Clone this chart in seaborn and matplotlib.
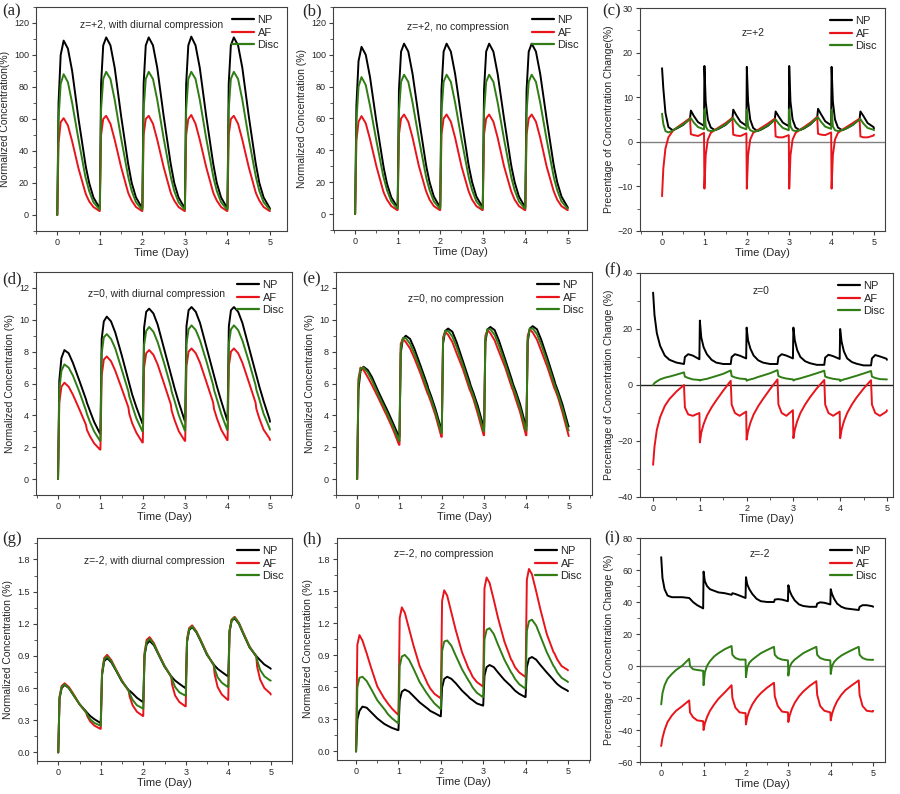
import numpy as np
import pandas as pd
import matplotlib
matplotlib.use('Agg')
import matplotlib.pyplot as plt
import seaborn as sns
from matplotlib.ticker import MultipleLocator, FormatStrFormatter

# time grid: sample points inside each day (compression switches at ~0.67 day)
days = [0, 1, 2, 3, 4]
phase = [0, 0.03, 0.08, 0.15, 0.25, 0.35, 0.5, 0.66, 0.68, 0.75, 0.85, 0.99]
time = [d + p for d in days for p in phase] + [5.0]

layers = ['NP', 'AF', 'Disc']
colors = ['black', '#e8141b', '#2f7d14']

# (a) z=+2, with diurnal compression
a_np = [0, 70, 100, 109, 104, 90, 60, 32, 29, 20, 11, 4.5,
        4.5, 82, 106, 111, 106, 92, 62, 33, 30, 20, 11, 4.5,
        4.5, 82, 106, 111, 106, 92, 62, 33, 30, 20, 11, 4.5,
        4.5, 82, 106, 111.5, 106, 92, 62, 33, 30, 20, 11, 4.5,
        4.5, 82, 106, 111, 106, 92, 62, 33, 30, 20, 11, 4.5, 4]
a_af = [0, 45, 58, 60.5, 56, 46, 29, 14, 12.5, 8.5, 5, 2.5,
        2.5, 50, 60, 62, 57, 47, 30, 14.5, 13, 9, 5, 2.5,
        2.5, 50, 60, 62, 57, 47, 30, 14.5, 13, 9, 5, 2.5,
        2.5, 50, 60, 62.5, 57, 47, 30, 14.5, 13, 9, 5, 2.5,
        2.5, 50, 60, 62, 57, 47, 30, 14.5, 13, 9, 5, 2.5, 2.5]
a_disc = [0, 60, 82, 88, 83, 70, 47, 24, 22, 15, 8, 3.5,
          3.5, 66, 85, 89.5, 85, 72, 48, 25, 22.5, 15, 8, 3.5,
          3.5, 66, 85, 89.5, 85, 72, 48, 25, 22.5, 15, 8, 3.5,
          3.5, 66, 85, 89.5, 85, 72, 48, 25, 22.5, 15, 8, 3.5,
          3.5, 66, 85, 89.5, 85, 72, 48, 25, 22.5, 15, 8, 3.5, 3.5]

# (b) z=+2, no compression
b_np = [0, 68, 96, 105, 100, 86, 58, 31, 28, 19, 10.5, 4.5,
        4.5, 78, 102, 107, 102, 88, 60, 32, 29, 20, 11, 4.5,
        4.5, 78, 102, 107, 102, 88, 60, 32, 29, 20, 11, 4.5,
        4.5, 78, 102, 107, 102, 88, 60, 32, 29, 20, 11, 4.5,
        4.5, 78, 102, 107, 102, 88, 60, 32, 29, 20, 11, 4.5, 4]
b_af = [0, 46, 58, 61.5, 57, 47, 30, 14.5, 13, 9, 5, 2.5,
        2.5, 50, 60, 62.5, 58, 48, 30, 15, 13.5, 9, 5, 2.5,
        2.5, 50, 60, 62.5, 58, 48, 30, 15, 13.5, 9, 5, 2.5,
        2.5, 50, 60, 62.5, 58, 48, 30, 15, 13.5, 9, 5, 2.5,
        2.5, 50, 60, 62.5, 58, 48, 30, 15, 13.5, 9, 5, 2.5, 2.5]
b_disc = [0, 58, 80, 86, 81, 68, 46, 24, 22, 15, 8, 3.5,
          3.5, 64, 83, 87.5, 83, 70, 47, 24.5, 22, 15, 8, 3.5,
          3.5, 64, 83, 87.5, 83, 70, 47, 24.5, 22, 15, 8, 3.5,
          3.5, 64, 83, 87.5, 83, 70, 47, 24.5, 22, 15, 8, 3.5,
          3.5, 64, 83, 87.5, 83, 70, 47, 24.5, 22, 15, 8, 3.5, 3.5]

# (c) z=+2, percentage change
c_np = [16.5, 12, 6.5, 3.3, 2.6, 3.0, 3.8, 5.2, 7.0, 5.8, 4.4, 3.6,
        17, 9, 5, 3.2, 2.6, 3.0, 3.8, 5.2, 7.2, 6.0, 4.5, 3.6,
        16.8, 9, 5, 3.1, 2.4, 2.8, 3.6, 5.0, 6.8, 5.7, 4.3, 3.5,
        17, 9, 5, 3.2, 2.6, 3.0, 3.9, 5.4, 7.4, 6.2, 4.6, 3.7,
        16.8, 9, 5, 3.2, 2.6, 3.0, 3.8, 5.1, 6.8, 5.8, 4.2, 3.3, 3.0]
c_af = [-12.2, -6, -1.5, 1.0, 2.4, 3.2, 4.2, 5.3, 1.7, 1.5, 1.3, 2.0,
        -10.5, -3, 0.5, 2.0, 2.7, 3.3, 4.2, 5.4, 1.6, 1.4, 1.3, 1.9,
        -10.5, -3, 0.5, 2.0, 2.6, 3.2, 4.1, 5.2, 1.2, 1.0, 1.0, 1.5,
        -10.5, -3, 0.5, 2.0, 2.7, 3.3, 4.3, 5.6, 1.8, 1.6, 1.5, 2.1,
        -10.5, -3, 0.5, 2.0, 2.7, 3.3, 4.2, 5.2, 1.2, 1.0, 1.0, 1.4, 1.6]
c_disc = [6.3, 4.0, 2.4, 2.1, 2.5, 3.1, 3.9, 5.1, 5.3, 4.3, 3.3, 2.8,
          7.3, 3.5, 2.6, 2.4, 2.6, 3.1, 3.9, 5.2, 5.3, 4.3, 3.3, 2.8,
          7.2, 3.5, 2.6, 2.3, 2.4, 2.9, 3.7, 4.9, 5.0, 4.1, 3.1, 2.6,
          7.3, 3.5, 2.6, 2.4, 2.6, 3.1, 4.0, 5.4, 5.5, 4.5, 3.4, 2.9,
          7.2, 3.5, 2.6, 2.4, 2.6, 3.0, 3.8, 5.0, 5.1, 4.1, 3.1, 2.7, 2.6]

# (d) z=0, with diurnal compression
d_np = [0, 6.2, 7.6, 8.1, 7.9, 7.3, 6.2, 5.0, 4.8, 4.3, 3.6, 2.85,
        2.85, 8.8, 9.9, 10.2, 9.9, 9.2, 7.8, 6.2, 6.0, 5.3, 4.5, 3.5,
        3.5, 9.5, 10.5, 10.7, 10.4, 9.7, 8.2, 6.6, 6.4, 5.7, 4.8, 3.65,
        3.65, 9.6, 10.6, 10.8, 10.5, 9.8, 8.3, 6.7, 6.5, 5.8, 4.9, 3.7,
        3.7, 9.6, 10.6, 10.8, 10.5, 9.8, 8.3, 6.7, 6.5, 5.8, 4.9, 3.75, 3.6]
d_af = [0, 4.8, 5.8, 6.05, 5.8, 5.3, 4.4, 3.4, 3.1, 2.7, 2.25, 1.85,
        1.85, 6.5, 7.5, 7.7, 7.4, 6.8, 5.7, 4.5, 4.1, 3.5, 2.9, 2.3,
        2.3, 7.0, 7.9, 8.1, 7.8, 7.2, 6.0, 4.7, 4.3, 3.7, 3.0, 2.4,
        2.4, 7.1, 8.0, 8.2, 7.9, 7.3, 6.1, 4.8, 4.4, 3.8, 3.1, 2.45,
        2.45, 7.1, 8.0, 8.2, 7.9, 7.3, 6.1, 4.8, 4.4, 3.8, 3.1, 2.55, 2.45]
d_disc = [0, 5.6, 6.8, 7.2, 7.0, 6.5, 5.5, 4.3, 4.1, 3.6, 3.0, 2.4,
          2.4, 7.9, 8.9, 9.1, 8.8, 8.2, 6.9, 5.5, 5.2, 4.6, 3.8, 3.0,
          3.0, 8.4, 9.3, 9.55, 9.25, 8.6, 7.3, 5.8, 5.5, 4.9, 4.0, 3.05,
          3.05, 8.5, 9.4, 9.65, 9.35, 8.7, 7.4, 5.9, 5.6, 5.0, 4.1, 3.1,
          3.1, 8.5, 9.4, 9.65, 9.35, 8.7, 7.4, 5.9, 5.6, 5.0, 4.1, 3.2, 3.1]

# (e) z=0, no compression
e_np = [0, 5.6, 6.8, 7.05, 6.85, 6.4, 5.5, 4.6, 4.5, 4.1, 3.5, 2.65,
        2.65, 7.9, 8.8, 9.0, 8.8, 8.2, 7.1, 5.9, 5.7, 5.2, 4.4, 3.1,
        3.1, 8.5, 9.3, 9.45, 9.25, 8.6, 7.4, 6.1, 5.9, 5.4, 4.6, 3.25,
        3.25, 8.6, 9.4, 9.55, 9.35, 8.7, 7.5, 6.2, 6.0, 5.5, 4.7, 3.3,
        3.3, 8.6, 9.45, 9.6, 9.4, 8.75, 7.55, 6.2, 6.0, 5.5, 4.7, 3.35, 3.3]
e_af = [0, 6.3, 7.0, 6.85, 6.4, 5.9, 5.1, 4.2, 4.1, 3.7, 3.1, 2.15,
        2.15, 8.5, 8.8, 8.6, 8.2, 7.6, 6.6, 5.4, 5.3, 4.8, 4.0, 2.65,
        2.65, 8.9, 9.25, 9.05, 8.6, 7.9, 6.9, 5.6, 5.5, 5.0, 4.1, 2.75,
        2.75, 9.0, 9.35, 9.15, 8.7, 8.0, 7.0, 5.7, 5.6, 5.0, 4.2, 2.75,
        2.75, 9.0, 9.4, 9.2, 8.75, 8.05, 7.0, 5.7, 5.6, 5.1, 4.2, 2.8, 2.7]
e_disc = [0, 6.0, 6.95, 7.0, 6.7, 6.2, 5.3, 4.4, 4.3, 3.9, 3.3, 2.4,
          2.4, 8.2, 8.85, 8.85, 8.5, 7.9, 6.85, 5.65, 5.5, 5.0, 4.2, 2.9,
          2.9, 8.7, 9.3, 9.3, 8.95, 8.3, 7.15, 5.85, 5.7, 5.2, 4.35, 3.0,
          3.0, 8.8, 9.4, 9.4, 9.05, 8.4, 7.25, 5.95, 5.8, 5.3, 4.45, 3.05,
          3.05, 8.8, 9.45, 9.45, 9.1, 8.45, 7.3, 5.95, 5.8, 5.3, 4.45, 3.1, 3.05]

# (f) z=0, percentage change
f_np = [33, 25, 18.5, 14, 10.5, 9, 8, 7.5, 10, 11, 10.5, 9.2,
        23, 17, 13.5, 11, 9, 8, 7.5, 7.5, 10, 11, 10.5, 9.5,
        20.5, 16, 13, 10.5, 8.8, 8, 7.5, 7.5, 10, 11, 10.5, 9.5,
        20.5, 16, 12.5, 10, 8.5, 7.8, 7.2, 7.2, 9.8, 10.8, 10.3, 9.3,
        20, 15.5, 12, 9.5, 8.2, 7.6, 7.0, 7.0, 9.5, 10.7, 10.2, 9.4, 9]
f_af = [-28.5, -22, -16, -11.5, -7.5, -5, -2.3, 0, -8, -10.5, -11, -10,
        -20.5, -17, -14, -11, -8, -5.5, -2, 1.5, -7, -10, -11, -9.5,
        -19.5, -16.5, -13.5, -10.5, -7.5, -5, -1.5, 2, -7, -10, -11, -9,
        -19, -16, -13, -10, -7, -4.5, -1.2, 1.8, -7, -10, -11, -9.5,
        -19, -16, -13, -10, -7, -4.5, -1.3, 1.7, -7, -10, -11, -9.5, -9]
f_disc = [0, 0.7, 1.3, 2.0, 2.6, 3.0, 3.7, 4.5, 3.0, 2.5, 2.0, 1.8,
          1.6, 1.8, 2.0, 2.2, 2.7, 3.2, 4.0, 5.2, 3.2, 2.7, 2.3, 2.1,
          1.5, 1.8, 2.0, 2.3, 2.9, 3.4, 4.2, 5.3, 3.2, 2.7, 2.3, 2.0,
          1.6, 1.9, 2.1, 2.4, 2.9, 3.4, 4.2, 5.1, 3.0, 2.6, 2.2, 1.9,
          1.4, 1.7, 2.0, 2.3, 2.8, 3.3, 4.1, 5.0, 3.0, 2.5, 2.1, 2.0, 2.0]

# (g) z=-2, with diurnal compression
g_np = [0, 0.5, 0.6, 0.63, 0.6, 0.54, 0.45, 0.38, 0.37, 0.34, 0.31, 0.275,
        0.275, 0.72, 0.85, 0.88, 0.84, 0.77, 0.66, 0.58, 0.575, 0.55, 0.51, 0.47,
        0.47, 0.9, 1.01, 1.04, 1.0, 0.92, 0.8, 0.71, 0.7, 0.67, 0.64, 0.6,
        0.6, 1.03, 1.14, 1.17, 1.12, 1.04, 0.91, 0.82, 0.81, 0.78, 0.75, 0.71,
        0.71, 1.12, 1.23, 1.25, 1.2, 1.11, 0.98, 0.9, 0.89, 0.86, 0.82, 0.785, 0.78]
g_af = [0, 0.52, 0.62, 0.645, 0.61, 0.55, 0.45, 0.37, 0.34, 0.29, 0.25, 0.22,
        0.22, 0.75, 0.88, 0.91, 0.86, 0.78, 0.67, 0.57, 0.52, 0.44, 0.38, 0.34,
        0.34, 0.93, 1.05, 1.075, 1.02, 0.93, 0.81, 0.7, 0.63, 0.53, 0.47, 0.43,
        0.43, 1.06, 1.16, 1.185, 1.13, 1.05, 0.92, 0.81, 0.73, 0.61, 0.54, 0.49,
        0.49, 1.14, 1.24, 1.265, 1.21, 1.12, 0.99, 0.89, 0.8, 0.68, 0.6, 0.55, 0.54]
g_disc = [0, 0.51, 0.61, 0.635, 0.6, 0.54, 0.45, 0.37, 0.355, 0.31, 0.275, 0.25,
          0.25, 0.73, 0.865, 0.895, 0.85, 0.775, 0.665, 0.575, 0.55, 0.49, 0.44, 0.41,
          0.41, 0.91, 1.03, 1.06, 1.01, 0.925, 0.805, 0.705, 0.68, 0.61, 0.56, 0.53,
          0.53, 1.04, 1.15, 1.175, 1.125, 1.045, 0.915, 0.815, 0.78, 0.7, 0.65, 0.61,
          0.61, 1.13, 1.235, 1.26, 1.205, 1.115, 0.985, 0.895, 0.86, 0.77, 0.71, 0.67, 0.67]

# (h) z=-2, no compression
h_np = [0, 0.3, 0.38, 0.42, 0.41, 0.37, 0.31, 0.26, 0.255, 0.24, 0.22, 0.2,
        0.2, 0.48, 0.56, 0.58, 0.56, 0.52, 0.46, 0.41, 0.405, 0.38, 0.36, 0.33,
        0.33, 0.6, 0.68, 0.7, 0.68, 0.64, 0.57, 0.51, 0.5, 0.48, 0.45, 0.43,
        0.43, 0.71, 0.79, 0.81, 0.79, 0.74, 0.67, 0.61, 0.6, 0.57, 0.54, 0.51,
        0.51, 0.79, 0.87, 0.885, 0.86, 0.81, 0.74, 0.67, 0.66, 0.63, 0.6, 0.57, 0.565]
h_af = [0, 1.0, 1.09, 1.04, 0.92, 0.79, 0.61, 0.5, 0.49, 0.45, 0.4, 0.345,
        0.345, 1.25, 1.35, 1.3, 1.15, 1.0, 0.8, 0.66, 0.64, 0.59, 0.54, 0.5,
        0.5, 1.41, 1.51, 1.46, 1.3, 1.14, 0.93, 0.77, 0.76, 0.7, 0.65, 0.61,
        0.61, 1.53, 1.63, 1.58, 1.42, 1.25, 1.03, 0.86, 0.85, 0.79, 0.74, 0.7,
        0.7, 1.61, 1.71, 1.66, 1.5, 1.33, 1.1, 0.93, 0.92, 0.86, 0.8, 0.765, 0.76]
h_disc = [0, 0.6, 0.69, 0.7, 0.66, 0.59, 0.48, 0.4, 0.39, 0.35, 0.31, 0.265,
          0.265, 0.8, 0.89, 0.905, 0.86, 0.78, 0.65, 0.55, 0.54, 0.5, 0.45, 0.4,
          0.4, 0.94, 1.03, 1.04, 0.99, 0.9, 0.77, 0.66, 0.65, 0.6, 0.55, 0.51,
          0.51, 1.05, 1.14, 1.155, 1.1, 1.0, 0.86, 0.74, 0.73, 0.68, 0.63, 0.59,
          0.59, 1.13, 1.22, 1.235, 1.18, 1.08, 0.93, 0.8, 0.79, 0.74, 0.69, 0.655, 0.65]

# (i) z=-2, percentage change
i_np = [68, 55, 48, 44, 43, 43, 43, 42.5, 42, 40, 38, 36,
        59, 53, 50, 48, 47, 46, 45.5, 44.5, 45.5, 45, 44, 42.5,
        55.5, 51, 48, 45, 42, 40.5, 40, 40, 41.5, 41.8, 41.5, 40.5,
        50.5, 47, 44, 41, 38.5, 37.5, 37, 37, 39, 39.8, 39.5, 38.5,
        48, 45, 42, 39, 37, 36, 35.5, 35, 37, 38, 38, 37.3, 37]
i_af = [-50, -45, -40, -35, -31, -28, -25, -21.5, -29, -32, -34, -34.5,
        -40, -36, -32, -28, -24, -20.5, -16.5, -12, -20, -26, -29, -29.5,
        -36.5, -32, -28, -24, -20, -17, -13.5, -10.5, -19, -25, -28.5, -29,
        -35, -31, -27, -23, -19, -16, -12.5, -9.5, -18, -25, -28, -29,
        -34, -30, -26, -22, -18, -15, -12, -9, -18, -25, -28, -28.5, -28]
i_disc = [-24, -17, -12, -8, -5, -2.5, 0.3, 4.5, 0, -2, -2.5, -3,
          -12, -4, 0, 3, 6, 8, 10.5, 12.5, 7, 5, 4, 4,
          -7, -1, 2, 4, 6, 8, 10, 12, 7, 5, 4, 3.5,
          -6, -0.5, 2, 4, 6, 8, 10, 12, 7, 5, 4, 3.5,
          -5, 0, 2.5, 4.5, 6.5, 8, 10, 12, 7, 5, 4, 3.8, 4]

sns.set_style('ticks')
plt.rcParams['font.family'] = ['Liberation Sans', 'DejaVu Sans']
plt.rcParams['axes.edgecolor'] = '#404040'
plt.rcParams['axes.linewidth'] = 0.8

W, H = 900, 794
fig = plt.figure(figsize=(9, 7.94), dpi=100)


def box(l, t, r, b):
    return [l / W, 1 - b / H, (r - l) / W, (b - t) / H]


def panel(rect, vals, ylim, ymajor, xlim, ylabel, note, note_xy, tag, tag_xy,
          zero=None, fmt=None):
    ax = fig.add_axes(rect)
    df = pd.DataFrame({'Time': time * 3,
                       'Value': vals[0] + vals[1] + vals[2],
                       'Layer': np.repeat(layers, len(time))})
    if zero:
        ax.axhline(0, color=zero, lw=1, zorder=1)
    sns.lineplot(data=df, x='Time', y='Value', hue='Layer', palette=colors,
                 estimator=None, sort=False, lw=1.4, ax=ax)
    ax.set_xlim(*xlim)
    ax.set_ylim(*ylim)
    ax.xaxis.set_major_locator(MultipleLocator(1))
    ax.xaxis.set_minor_locator(MultipleLocator(0.5))
    ax.yaxis.set_major_locator(MultipleLocator(ymajor))
    ax.yaxis.set_minor_locator(MultipleLocator(ymajor / 2))
    if fmt:
        ax.yaxis.set_major_formatter(FormatStrFormatter(fmt))
    ax.tick_params(which='both', direction='out', labelsize=6.5, pad=2,
                   color='#404040')
    ax.tick_params(which='major', length=3)
    ax.tick_params(which='minor', length=2)
    ax.set_xlabel('Time (Day)', fontsize=8, labelpad=1)
    ax.set_ylabel(ylabel, fontsize=7.5, labelpad=3)
    ax.text(note_xy[0], note_xy[1], note, transform=ax.transAxes,
            ha='center', va='center', fontsize=7.5)
    leg = ax.legend(loc='upper right', frameon=False, fontsize=8,
                    handlelength=2.0, handletextpad=0.3, labelspacing=0.25,
                    borderaxespad=0.3)
    for ln in leg.get_lines():
        ln.set_linewidth(1.6)
    fig.text(tag_xy[0] / W, 1 - tag_xy[1] / H, tag, fontsize=12,
             family='Liberation Serif', ha='left', va='center')
    return ax


for v in [a_np, a_af, a_disc, b_np, b_af, b_disc, c_np, c_af, c_disc,
          d_np, d_af, d_disc, e_np, e_af, e_disc, f_np, f_af, f_disc,
          g_np, g_af, g_disc, h_np, h_af, h_disc, i_np, i_af, i_disc]:
    assert len(v) == len(time)

panel(box(36, 7, 287, 231), [a_np, a_af, a_disc], (-10, 130), 20, (-0.5, 5.4),
      'Normalized Concentration(%)', 'z=+2, with diurnal compression',
      (0.46, 0.92), '(a)', (2, 11))
panel(box(333, 7, 587, 230), [b_np, b_af, b_disc], (-10, 130), 20, (-0.52, 5.45),
      'Normalized Concentration (%)', 'z=+2, no compression',
      (0.49, 0.91), '(b)', (302, 11))
panel(box(640, 8, 885, 231), [c_np, c_af, c_disc], (-20, 30), 10, (-0.52, 5.26),
      'Precentage of Concentration Change(%)', 'z=+2',
      (0.46, 0.89), '(c)', (602, 11), zero='#808080')
panel(box(36, 272, 292, 495), [d_np, d_af, d_disc], (-1, 13), 2, (-0.52, 5.52),
      'Normalized Concentration (%)', 'z=0, with diurnal compression',
      (0.47, 0.90), '(d)', (2, 279))
panel(box(336, 272, 592, 495), [e_np, e_af, e_disc], (-1, 13), 2, (-0.5, 5.55),
      'Normalized Concentration (%)', 'z=0, no compression',
      (0.47, 0.88), '(e)', (302, 279))
panel(box(640, 273, 893, 497), [f_np, f_af, f_disc], (-40, 40), 20, (-0.28, 5.13),
      'Percentage of Concentration Change (%)', 'z=0',
      (0.48, 0.92), '(f)', (604, 270), zero='#202020')
panel(box(37, 538, 292, 761), [g_np, g_af, g_disc], (-0.08, 2.0), 0.3, (-0.5, 5.5),
      'Normalized Concentration (%)', 'z=-2, with diurnal compression',
      (0.46, 0.895), '(g)', (2, 539), fmt='%.1f')
panel(box(337, 538, 590, 760), [h_np, h_af, h_disc], (-0.08, 2.0), 0.3, (-0.45, 5.52),
      'Normalized Concentration (%)', 'z=-2, no compression',
      (0.42, 0.93), '(h)', (302, 539), fmt='%.1f')
panel(box(640, 538, 885, 762), [i_np, i_af, i_disc], (-60, 80), 20, (-0.5, 5.28),
      'Percentage of Concentration Change (%)', 'z=-2',
      (0.49, 0.93), '(i)', (604, 538), zero='#808080')

fig.savefig('out.png', dpi=100)
